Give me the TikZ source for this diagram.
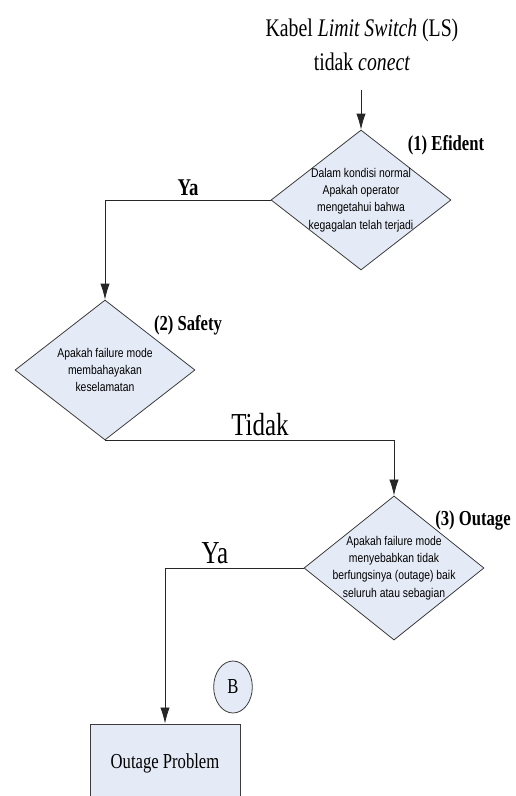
\documentclass[tikz,border=0pt]{standalone}
\usepackage{fontspec}
\usetikzlibrary{shapes.geometric,arrows.meta}
\setmainfont{Liberation Serif}
\newfontfamily\serifcond[FakeStretch=0.78]{Liberation Serif}
\newfontfamily\sanscond[FakeStretch=0.82]{Liberation Sans}
\definecolor{boxfill}{RGB}{229,235,246}
\definecolor{edgegray}{RGB}{60,60,60}
\begin{document}
\begin{tikzpicture}[x=0.75pt,y=-0.75pt,
  decision/.style={shape=diamond,draw=edgegray,fill=boxfill,line width=0.6pt,
    inner xsep=-8pt,inner ysep=-8pt,minimum width=135pt,minimum height=105pt,
    font=\sanscond\fontsize{9.5}{13}\selectfont,align=center},
  result/.style={draw=edgegray,fill=boxfill,line width=0.7pt,
    minimum width=112.5pt,minimum height=58.5pt,inner sep=0pt,
    font=\serifcond\fontsize{16}{18}\selectfont},
  connector/.style={draw=edgegray,fill=boxfill,shape=ellipse,line width=0.6pt,
    minimum width=29pt,minimum height=39pt,inner sep=0pt,
    font=\serifcond\fontsize{16}{18}\selectfont},
  steplabel/.style={font=\serifcond\bfseries\fontsize{16}{18}\selectfont,inner sep=0pt},
  flow/.style={draw=black!85,line width=0.6pt,-{Latex[length=12pt,width=7pt]}},
  answer/.style={font=\serifcond\fontsize{24}{26}\selectfont,inner sep=0pt}]
\useasboundingbox (0,0) rectangle (515,796);

% heading of the chart
\node[align=center,font=\serifcond\fontsize{19}{25}\selectfont] (head) at (362,45)
  {Kabel \textit{Limit Switch} (LS)\\ tidak \textit{conect}};
\coordinate (start) at (361,90);

% decisions
\node[decision] (d1) at (361,200)
  {Dalam kondisi normal\\Apakah operator\\mengetahui bahwa\\kegagalan telah terjadi};
\node[decision] (d2) at (105,370)
  {Apakah failure mode\\membahayakan\\keselamatan};
\node[decision] (d3) at (394,568)
  {Apakah failure mode\\menyebabkan tidak\\berfungsinya (outage) baik\\seluruh atau sebagian};

% step labels
\node[steplabel] (l1) at (446,145) {(1) Efident};
\node[steplabel] (l2) at (188,325) {(2) Safety};
\node[steplabel] (l3) at (473,520) {(3) Outage};

% result and off-page connector
\node[result] (res) at (165,763) {Outage Problem};
\node[connector] (conB) at (233,687) {B};

% flow lines
\draw[flow] (start) -- (d1.north);
\draw[flow] (d1.west) -| (d2.north);
\draw[flow] (d2.south) -| (d3.north);
\draw[flow] (d3.west) -| (res.north);

% answers on the branches
\node[answer,font=\serifcond\bfseries\fontsize{18}{20}\selectfont] (ya1) at (188,188) {Ya};
\node[answer] (tidak) at (260,425) {Tidak};
\node[answer] (ya2) at (215,553) {Ya};
\end{tikzpicture}
\end{document}
